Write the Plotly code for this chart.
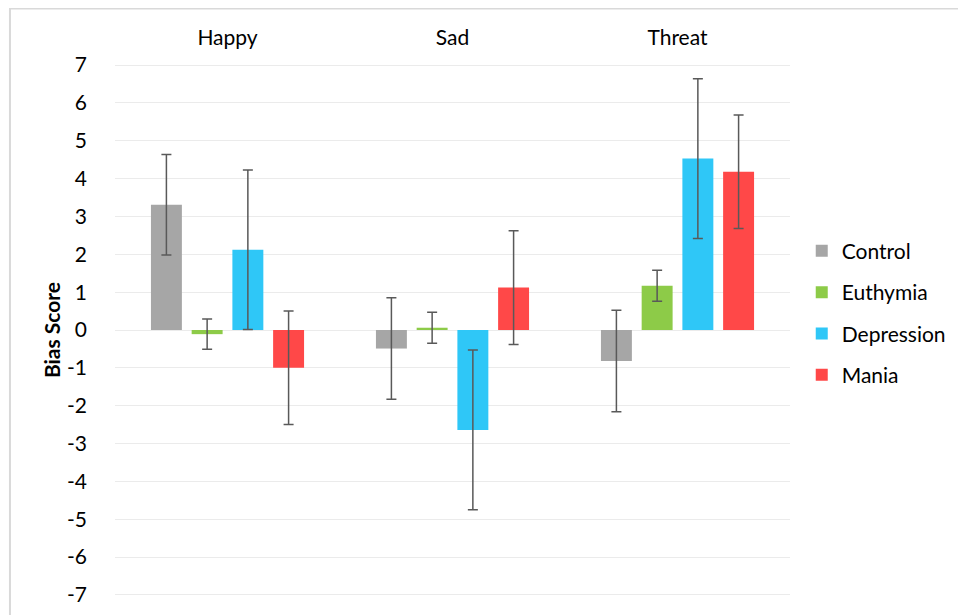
import plotly.graph_objects as go

categories = ["Happy", "Sad", "Threat"]
groups = ["Control", "Euthymia", "Depression", "Mania"]
values = {
    "Control":    [3.31, -0.49, -0.82],
    "Euthymia":   [-0.11, 0.06, 1.17],
    "Depression": [2.12, -2.64, 4.53],
    "Mania":      [-1.00, 1.12, 4.18],
}
errors = {
    "Control":    [1.33, 1.34, 1.34],
    "Euthymia":   [0.40, 0.41, 0.41],
    "Depression": [2.11, 2.11, 2.11],
    "Mania":      [1.50, 1.50, 1.50],
}
colors = {
    "Control": "#A6A6A6",
    "Euthymia": "#8DCB48",
    "Depression": "#2FC7F7",
    "Mania": "#FF4848",
}
y_tick_values = list(range(-7, 8))
y_tick_labels = [str(v) for v in y_tick_values]  # plain hyphen minus

FONT = "Lato"

fig = go.Figure()
for g in groups:
    fig.add_trace(go.Bar(
        name=g, x=categories, y=values[g],
        marker=dict(color=colors[g], line=dict(width=0)),
        error_y=dict(type="data", array=errors[g], visible=True,
                     color="#595959", thickness=1.5, width=5),
        legendgroup=g,
    ))

fig.update_layout(
    width=966, height=615,
    margin=dict(l=107, r=184, t=42, b=13),
    paper_bgcolor="white", plot_bgcolor="white",
    barmode="group", bargap=0.276, bargroupgap=0.24,
    font=dict(family=FONT, size=21, color="#000000"),
    showlegend=True,
    legend=dict(x=1.0174, xanchor="left", y=0.53, yanchor="middle",
                traceorder="grouped", tracegroupgap=11,
                font=dict(family=FONT, size=21, color="#000000"),
                bgcolor="rgba(0,0,0,0)"),
    xaxis=dict(side="top", showgrid=False, showline=False, ticks="",
               zeroline=False, tickfont=dict(size=21)),
    yaxis=dict(range=[-7.4, 7.4], tickvals=y_tick_values,
               ticktext=y_tick_labels, showgrid=True,
               gridcolor="#EBEBEB", gridwidth=1, zeroline=True,
               zerolinecolor="#EBEBEB", zerolinewidth=1, showline=False,
               ticks="", ticklabelstandoff=27, tickfont=dict(size=21),
               title=dict(text="<b>Bias Score</b>", standoff=0,
                          font=dict(size=21))),
    shapes=[dict(type="rect", xref="paper", yref="paper",
                 x0=-0.1556, x1=1.2578, y0=-0.05, y1=1.0741,
                 line=dict(color="#D9D9D9", width=2), layer="below")],
)

fig.write_html("out.html")
